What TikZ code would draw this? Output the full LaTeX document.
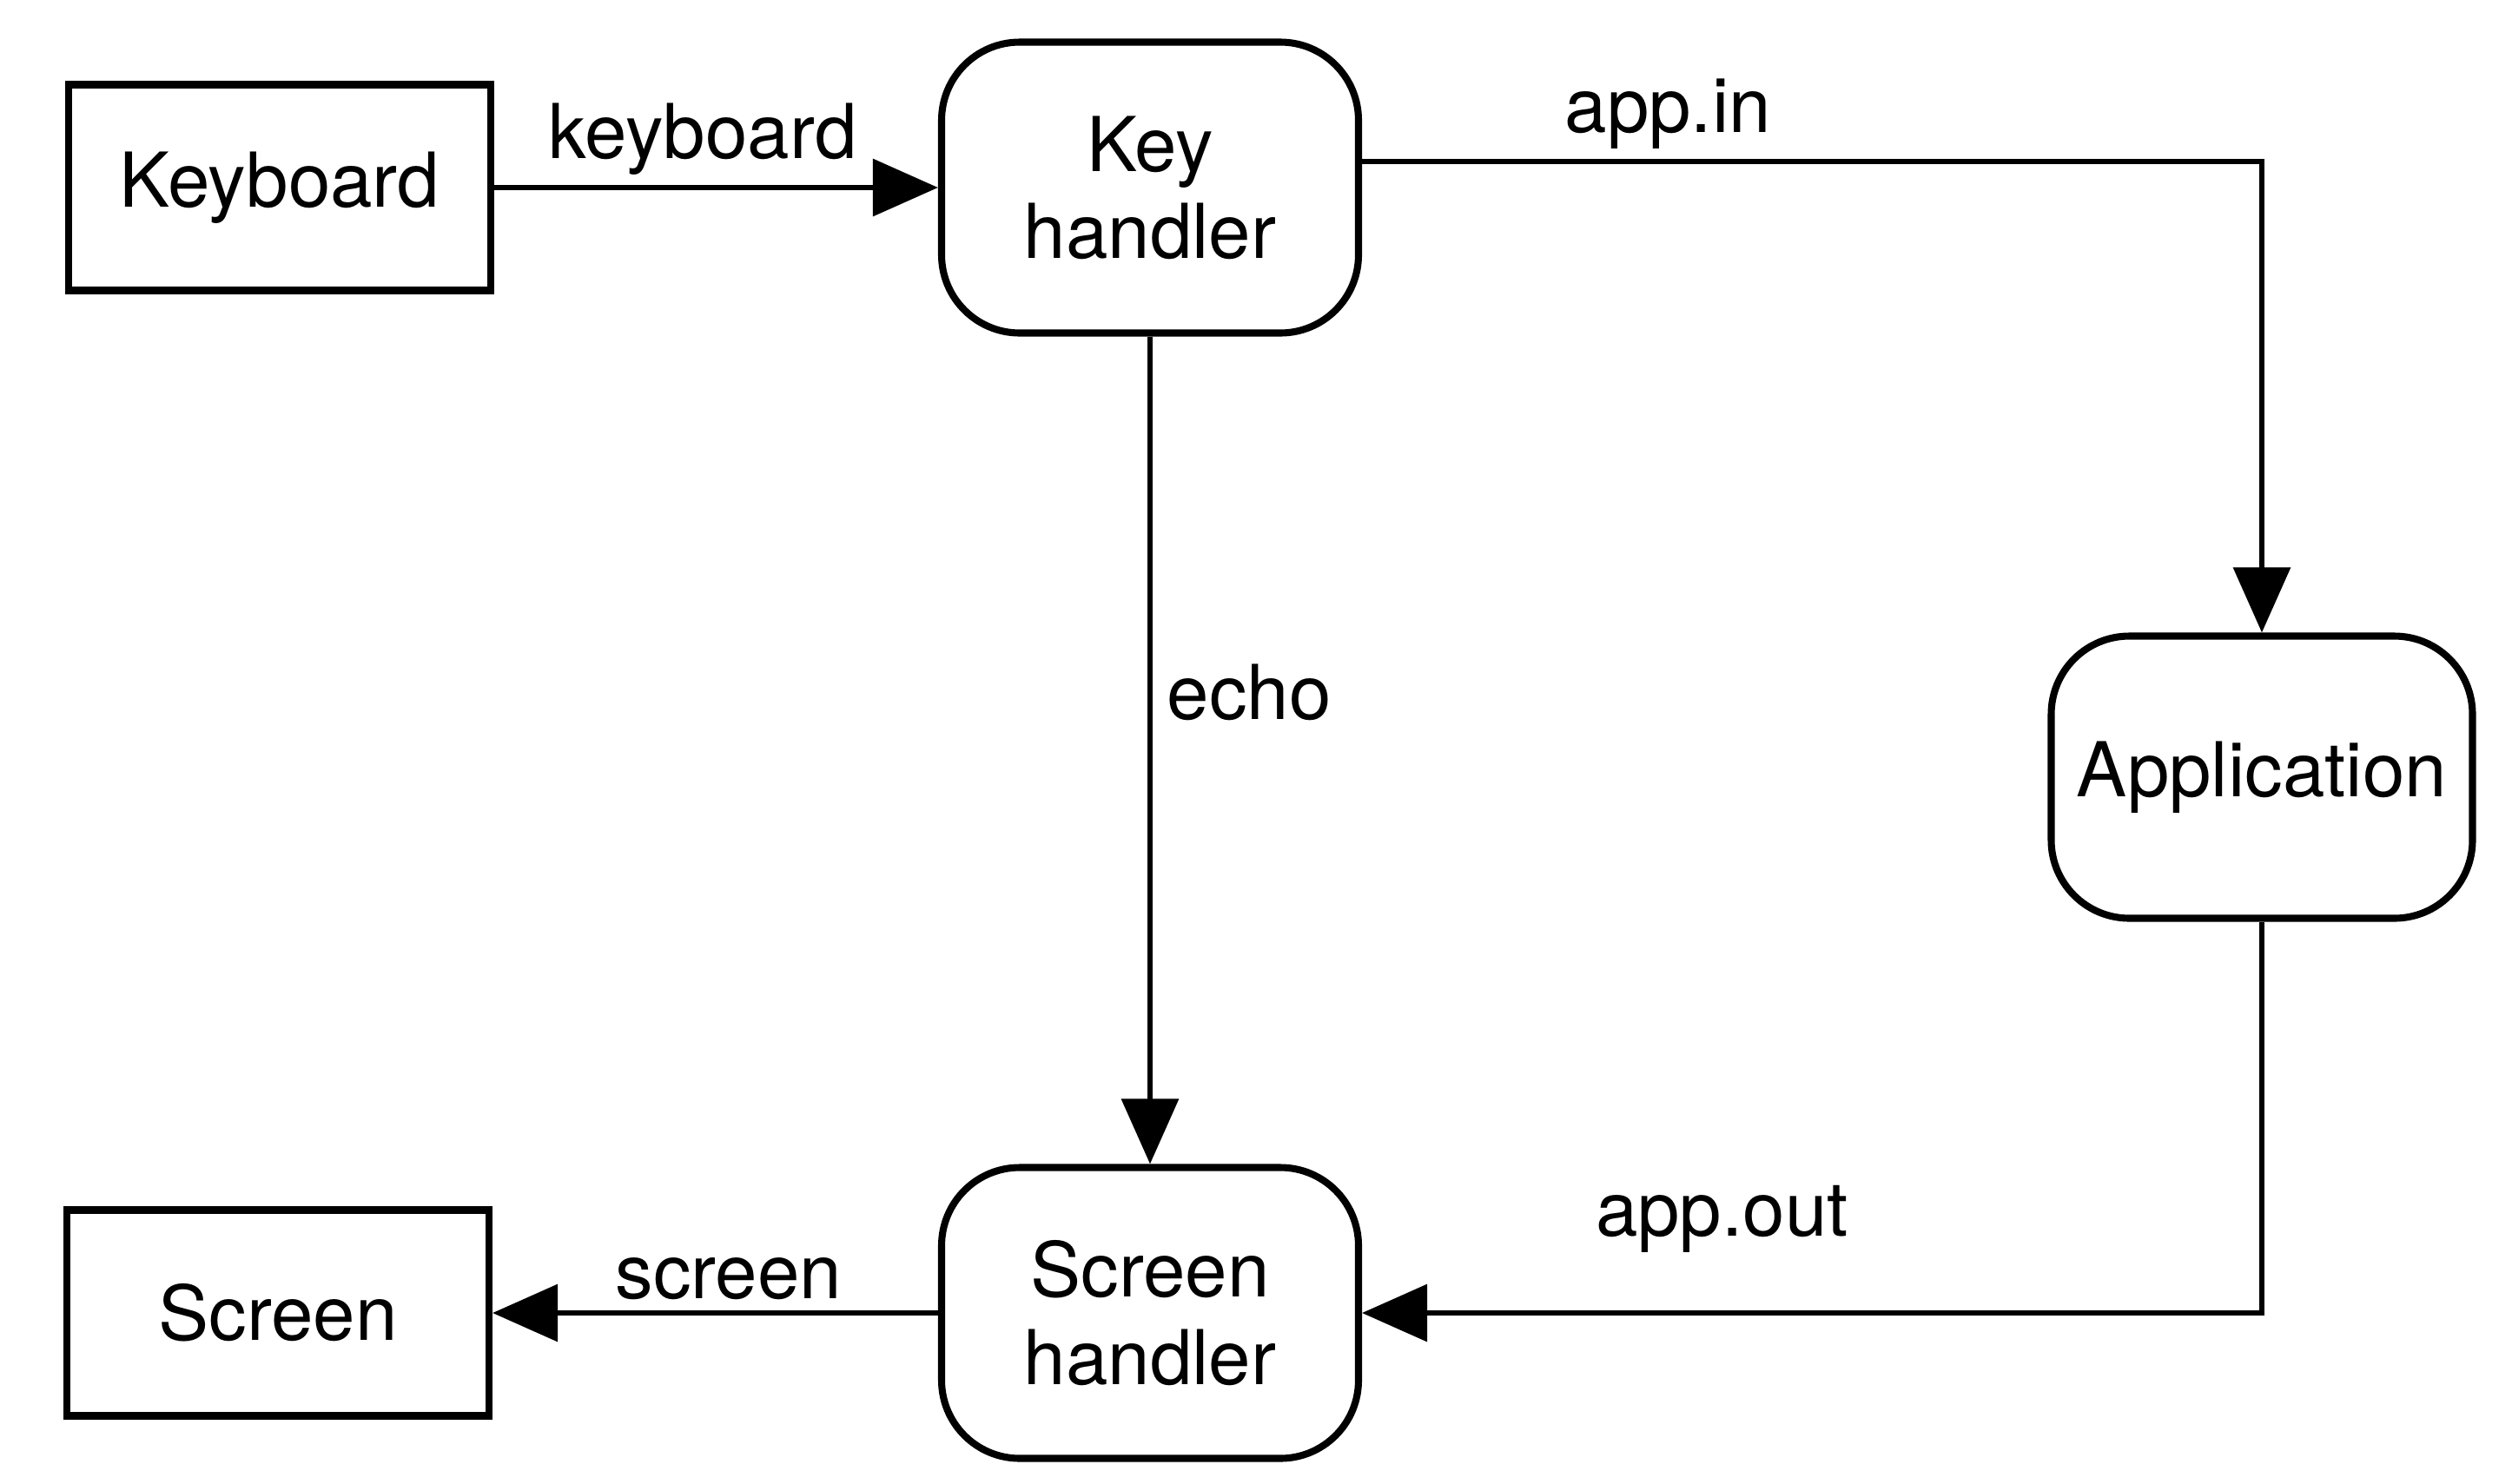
\documentclass[tikz,border=0pt]{standalone}
\usepackage{fontspec}
\setmainfont{TeX Gyre Heros}
\usetikzlibrary{arrows.meta,positioning}

\begin{document}
\begin{tikzpicture}[
    extern/.style={
        rectangle, draw, line width=2.3pt,
        minimum width=4.86cm, minimum height=2.37cm,
        align=center, inner sep=0pt,
    },
    proc/.style={
        rectangle, draw, rounded corners=0.9cm, line width=2.3pt,
        minimum width=4.8cm, minimum height=3.35cm,
        align=center, inner sep=0pt,
    },
    arr/.style={-{Triangle[length=0.75cm, width=0.65cm]}, line width=1.8pt},
    font=\fontsize{24.8}{28.5}\selectfont,
]
\useasboundingbox (0,0) rectangle (28.92,-17.08);

% Devices
\node[extern] (kbd) at (3.22,-2.16) {Keyboard};
\node[extern] (scr) at (3.20,-15.12) {Screen};

% Processes
\node[proc] (keyh) at (13.24,-2.16) {Key\\handler};
\node[proc] (scrh) at (13.24,-15.12) {Screen\\handler};
\node[proc, minimum width=4.85cm, minimum height=3.25cm] (app) at (26.04,-8.95) {Application};

% Flows
\draw[arr] (kbd) -- node[pos=0.47, above] {keyboard} (keyh);
\draw[arr] ([yshift=0.3cm]keyh.east) -| node[pos=0.17, above] {app.in} (app.north);
\draw[arr] (keyh) -- node[pos=0.43, right=0.05cm] {echo} (scrh);
\draw[arr] (app.south) |- node[pos=0.80, above=0.55cm] {app.out} (scrh.east);
\draw[arr] (scrh) -- node[pos=0.47, above] {screen} (scr);

\end{tikzpicture}
\end{document}
